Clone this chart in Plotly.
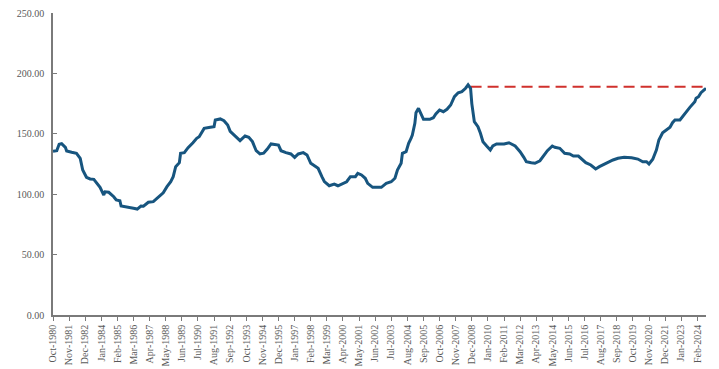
import plotly.graph_objects as go
import pandas as pd

# Series (monthly dates)
dates = [
    "1980-10", "1981-01", "1981-03", "1981-05", "1981-08", "1981-09", "1982-01", "1982-05",
    "1982-08", "1982-10", "1983-01", "1983-04", "1983-07", "1983-09", "1983-12", "1984-03",
    "1984-04", "1984-07", "1984-11", "1985-01", "1985-04", "1985-05", "1985-09", "1986-03",
    "1986-06", "1986-09", "1986-11", "1987-03", "1987-07", "1987-11", "1988-03", "1988-06",
    "1988-09", "1988-11", "1989-01", "1989-04", "1989-05", "1989-08", "1989-11", "1990-03",
    "1990-06", "1990-08", "1990-12", "1991-05", "1991-08", "1991-09", "1992-01", "1992-04",
    "1992-07", "1992-09", "1993-01", "1993-05", "1993-09", "1993-12", "1994-03", "1994-06",
    "1994-09", "1994-12", "1995-03", "1995-06", "1995-12", "1996-02", "1996-06", "1996-10",
    "1997-01", "1997-04", "1997-08", "1997-11", "1998-02", "1998-05", "1998-08", "1998-11",
    "1999-01", "1999-05", "1999-09", "1999-12", "2000-04", "2000-07", "2000-10", "2001-02",
    "2001-04", "2001-07", "2001-10", "2001-12", "2002-04", "2002-11", "2003-03", "2003-07",
    "2003-10", "2003-12", "2004-03", "2004-04", "2004-07", "2004-09", "2004-11", "2004-12",
    "2005-02", "2005-03", "2005-05", "2005-07", "2005-09", "2006-02", "2006-05", "2006-07",
    "2006-10", "2007-01", "2007-04", "2007-07", "2007-10", "2008-01", "2008-04", "2008-07",
    "2008-09", "2008-11", "2008-12", "2009-02", "2009-05", "2009-07", "2009-09", "2009-12",
    "2010-03", "2010-05", "2010-08", "2011-02", "2011-06", "2011-11", "2012-03", "2012-06",
    "2012-08", "2012-12", "2013-03", "2013-07", "2013-10", "2014-01", "2014-05", "2014-07",
    "2014-11", "2015-03", "2015-07", "2015-10", "2016-02", "2016-04", "2016-08", "2016-12",
    "2017-02", "2017-04", "2017-07", "2017-11", "2018-03", "2018-06", "2018-10", "2019-03",
    "2019-09", "2020-02", "2020-06", "2020-09", "2020-11", "2021-02", "2021-05", "2021-07",
    "2021-10", "2022-01", "2022-04", "2022-06", "2022-08", "2022-12", "2023-02", "2023-05",
    "2023-08", "2023-12", "2024-01", "2024-03", "2024-05", "2024-08", "2024-09",
]
values = [
    135.5, 136.0, 141.3, 141.8, 138.8, 135.8, 134.7, 133.9,
    129.7, 120.0, 114.0, 112.6, 112.3, 109.5, 105.7, 99.3,
    102.0, 101.6, 97.9, 95.2, 94.6, 90.2, 89.2, 88.3,
    87.7, 90.2, 90.0, 93.3, 93.8, 97.9, 101.2, 106.2,
    110.3, 114.5, 122.8, 126.1, 133.9, 134.4, 138.5, 142.6,
    146.3, 147.6, 154.5, 155.4, 155.9, 161.4, 162.3, 160.8,
    157.3, 152.0, 148.0, 144.3, 148.2, 147.1, 143.5, 136.0,
    133.3, 133.9, 137.4, 141.6, 140.7, 136.0, 134.4, 133.3,
    130.5, 133.3, 134.4, 132.5, 125.6, 123.3, 121.4, 114.5,
    110.5, 107.0, 108.4, 107.0, 109.0, 110.3, 114.5, 114.5,
    117.3, 115.9, 113.2, 109.0, 105.7, 105.7, 109.0, 110.3,
    113.2, 120.0, 125.6, 133.9, 135.2, 142.1, 146.3, 149.0,
    158.7, 167.5, 171.1, 167.0, 162.0, 162.0, 163.3, 166.4,
    169.7, 168.3, 170.3, 173.8, 180.7, 184.0, 184.9, 187.7,
    190.5, 187.7, 175.0, 160.0, 155.9, 150.4, 143.5, 139.9,
    136.6, 139.9, 141.6, 141.6, 142.6, 139.9, 135.2, 130.5,
    126.9, 126.1, 125.6, 127.7, 131.6, 136.0, 139.9, 138.8,
    138.0, 133.9, 133.3, 131.6, 131.6, 129.7, 126.1, 124.2,
    122.3, 120.9, 122.8, 124.8, 126.9, 128.3, 129.7, 130.5,
    130.2, 129.1, 126.9, 126.9, 125.0, 128.9, 136.6, 144.9,
    150.9, 153.1, 155.4, 159.2, 161.4, 161.4, 164.2, 168.3,
    171.9, 176.6, 179.4, 180.7, 184.0, 186.8, 187.7,
]

# Reference (previous peak) level
ref_dates = ["2008-11", "2024-09"]
ref_values = [189.0, 189.0]

# X tick labels
tick_labels = [
    "Oct-1980", "Nov-1981", "Dec-1982", "Jan-1984", "Feb-1985", "Mar-1986", "Apr-1987",
    "May-1988", "Jun-1989", "Jul-1990", "Aug-1991", "Sep-1992", "Oct-1993", "Nov-1994",
    "Dec-1995", "Jan-1997", "Feb-1998", "Mar-1999", "Apr-2000", "May-2001", "Jun-2002",
    "Jul-2003", "Aug-2004", "Sep-2005", "Oct-2006", "Nov-2007", "Dec-2008", "Jan-2010",
    "Feb-2011", "Mar-2012", "Apr-2013", "May-2014", "Jun-2015", "Jul-2016", "Aug-2017",
    "Sep-2018", "Oct-2019", "Nov-2020", "Dec-2021", "Jan-2023", "Feb-2024",
]
y_ticks = [0, 50, 100, 150, 200, 250]

x = pd.to_datetime(dates, format="%Y-%m")
rx = pd.to_datetime(ref_dates, format="%Y-%m")
tick_vals = pd.to_datetime(tick_labels, format="%b-%Y")

FONT = "Liberation Serif, DejaVu Serif, serif"
AXIS = "#7a7a7a"

fig = go.Figure()
fig.add_trace(go.Scatter(
    x=rx, y=ref_values, mode="lines",
    line=dict(color="#d0312d", width=2, dash="11px,6px"),
    hoverinfo="skip", showlegend=False,
))
fig.add_trace(go.Scatter(
    x=x, y=values, mode="lines",
    line=dict(color="#17557f", width=3, shape="linear"),
    showlegend=False,
))

# The page body adds an 8px offset, so the figure is sized to fit the window
fig.update_layout(
    width=711, height=361,
    margin=dict(l=45, r=13, t=5, b=54),
    paper_bgcolor="white", plot_bgcolor="white",
    font=dict(family=FONT, size=10, color="#595959"),
)
fig.update_xaxes(
    range=[pd.Timestamp("1980-10-01"), pd.Timestamp("2024-09-01")],
    tickmode="array", tickvals=tick_vals, ticktext=tick_labels,
    tickangle=-90, ticks="outside", ticklen=4, tickcolor=AXIS,
    showline=True, linecolor=AXIS, linewidth=1.5,
    showgrid=False, zeroline=False, automargin=False,
    ticklabeloverflow="allow",
    tickfont=dict(family=FONT, size=10, color="#595959"),
)
fig.update_yaxes(
    range=[0, 250], tickmode="array", tickvals=y_ticks,
    tickformat=".2f",
    ticks="inside", ticklen=4, tickcolor=AXIS,
    showline=True, linecolor=AXIS, linewidth=1.5,
    showgrid=False, zeroline=False, automargin=False,
    ticklabeloverflow="allow", ticklabelstandoff=5,
    tickfont=dict(family=FONT, size=10, color="#595959"),
)

fig.write_html("out.html")
